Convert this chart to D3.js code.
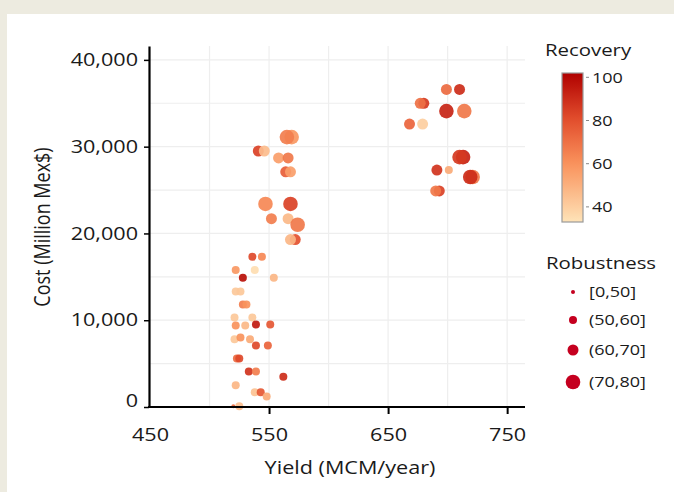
<!DOCTYPE html>
<html><head><meta charset="utf-8">
<script src="https://cdn.jsdelivr.net/npm/d3@7"></script>
<style>
html,body{margin:0;padding:0;background:#EDEBE0;}
svg{display:block;}
text{font-family:"Open Sans",sans-serif;fill:#1a1a1a;}
</style></head><body>
<svg id="c" width="674" height="492"></svg>
<script>
// ---- data ----
const yieldVals = [699,710,680,677,699,714,668,679,713,710,691,701,721,719,693,690,
  569,565,541,546,558,566,564,568,547,568,552,566,574,572,568,
  536,544,522,538,528,554,522,526,528,531,521,536,522,530,539,551,521,526,534,539,549,523,525,533,539,562,522,538,543,548,520,525];
const costVals = [36600,36600,35000,35000,34100,34100,32600,32600,28800,28800,27300,27300,26500,26500,24900,24900,
  31100,31100,29500,29500,28700,28700,27100,27100,23400,23400,21700,21700,21000,19300,19300,
  17300,17300,15800,15800,14900,14900,13300,13300,11800,11800,10300,10300,9400,9400,9500,9500,7800,8000,7800,7100,7100,5600,5600,4100,4100,3500,2500,1700,1700,1200,100,100];
const recoveryVals = [72,90,86,70,92,68,74,40,92,86,88,52,68,90,84,68,
  58,66,84,46,56,68,76,56,63,84,66,47,68,80,48,
  82,63,58,35,98,48,42,42,66,60,42,42,60,47,95,78,42,60,52,82,74,72,82,88,66,90,48,44,78,52,72,45];
const robustnessVals = ["(60,70]","(60,70]","(60,70]","(60,70]","(70,80]","(70,80]","(60,70]","(60,70]","(70,80]","(70,80]","(60,70]","(50,60]","(70,80]","(70,80]","(60,70]","(60,70]",
  "(70,80]","(70,80]","(60,70]","(60,70]","(60,70]","(60,70]","(60,70]","(60,70]","(70,80]","(70,80]","(60,70]","(60,70]","(70,80]","(60,70]","(60,70]",
  "(50,60]","(50,60]","(50,60]","(50,60]","(50,60]","(50,60]","(50,60]","(50,60]","(50,60]","(50,60]","(50,60]","(50,60]","(50,60]","(50,60]","(50,60]","(50,60]","(50,60]","(50,60]","(50,60]","(50,60]","(50,60]","(50,60]","(50,60]","(50,60]","(50,60]","(50,60]","(50,60]","(50,60]","(50,60]","(50,60]","[0,50]","(50,60]"];
const robustCats = ["[0,50]","(50,60]","(60,70]","(70,80]"];
const xTicks = [450,550,650,750];
const yTicks = [0,10000,20000,30000,40000];
const xGrid = [500,550,600,650,700,750];
const yGrid = [5000,10000,15000,20000,25000,30000,35000,40000];
const recoveryTicks = [40,60,80,100];

const points = yieldVals.map((v,i)=>({x:v,y:costVals[i],rec:recoveryVals[i],rob:robustnessVals[i]}));

// ---- setup ----
const SX = 1.2;
const svg = d3.select("#c");
svg.append("rect").attr("width",674).attr("height",492).attr("fill","#EDEBE0");
svg.append("rect").attr("x",7).attr("y",14).attr("width",667).attr("height",478).attr("fill","#fff");

const x = d3.scaleLinear().domain([450,765]).range([150,525]);
const y = d3.scaleLinear().domain([0,41600]).range([407,46]);
const color = d3.scaleLinear().domain([33,60,80,102]).range(["#FEE3B8","#F9925C","#E3502E","#B00000"]).clamp(true);
const size = d3.scaleOrdinal().domain(robustCats).range([2,4,5.5,7.3]);

function stretchText(sel){
  sel.each(function(){
    const t=d3.select(this);
    const tx=+t.attr("x")||0, ty=+t.attr("y")||0;
    t.attr("transform",`translate(${tx},${ty}) scale(${SX},1)`).attr("x",0).attr("y",0);
  });
}

// grid
const grid = svg.append("g");
grid.selectAll(".gx").data(xGrid).join("line")
  .attr("x1",d=>x(d)).attr("x2",d=>x(d)).attr("y1",y.range()[1]).attr("y2",y(0))
  .attr("stroke","#EEEEEE").attr("stroke-width",1.2);
grid.selectAll(".gy").data(yGrid).join("line")
  .attr("x1",x(450)).attr("x2",x.range()[1]).attr("y1",d=>y(d)).attr("y2",d=>y(d))
  .attr("stroke","#EEEEEE").attr("stroke-width",1.2);

// points
svg.append("g").selectAll("circle").data(points).join("circle")
  .attr("cx",d=>x(d.x)).attr("cy",d=>y(d.y)).attr("r",d=>size(d.rob))
  .attr("fill",d=>color(d.rec)).attr("fill-opacity",0.92);

// axes
const gx = svg.append("g").attr("transform",`translate(0,${y(0)})`)
  .call(d3.axisBottom(x).tickValues(xTicks).tickSize(7).tickPadding(14).tickSizeOuter(0));
gx.select(".domain").attr("stroke","#000").attr("stroke-width",2.2).attr("d",`M${x(450)-2},0H${x.range()[1]}`);
gx.selectAll(".tick line").attr("stroke","#000").attr("stroke-width",2);
gx.selectAll(".tick").filter(d=>d===450).select("line").remove();
gx.selectAll("text").attr("font-size",18).attr("font-family","'Open Sans',sans-serif").attr("fill","#1a1a1a");
stretchText(gx.selectAll("text"));

const gy = svg.append("g").attr("transform",`translate(${x(450)-1},0)`)
  .call(d3.axisLeft(y).tickValues(yTicks).tickSize(5).tickPadding(6).tickSizeOuter(0).tickFormat(d3.format(",")));
gy.select(".domain").attr("stroke","#000").attr("stroke-width",2.2);
gy.selectAll(".tick line").attr("stroke","#000").attr("stroke-width",1.5);
gy.selectAll("text").attr("font-size",18).attr("font-family","'Open Sans',sans-serif").attr("fill","#1a1a1a");
gy.selectAll(".tick").filter(d=>d===0).select("text").attr("y",-6);
stretchText(gy.selectAll("text"));

// axis titles
svg.append("text").attr("transform",`translate(350,474) scale(${SX},1)`)
  .attr("text-anchor","middle").attr("font-size",18).text("Yield (MCM/year)");
svg.append("text").attr("transform",`translate(50,227) scale(${SX},1) rotate(-90)`)
  .attr("text-anchor","middle").attr("font-size",18).text("Cost (Million Mex$)");

// recovery legend
svg.append("text").attr("transform",`translate(588,56) scale(${SX},1)`)
  .attr("text-anchor","middle").attr("font-size",17).text("Recovery");
const yLeg = d3.scaleLinear().domain([33,102]).range([222,73]);
const defs = svg.append("defs");
const grad = defs.append("linearGradient").attr("id","rg").attr("x1",0).attr("y1",1).attr("x2",0).attr("y2",0);
d3.range(0,1.0001,0.05).forEach(t=>{
  const v = yLeg.domain()[0] + t*(yLeg.domain()[1]-yLeg.domain()[0]);
  grad.append("stop").attr("offset",t).attr("stop-color",color(v));
});
svg.append("rect").attr("x",562).attr("y",yLeg(102)).attr("width",21).attr("height",yLeg(33)-yLeg(102))
  .attr("fill","url(#rg)").attr("stroke","#9a9a9a").attr("stroke-width",1.2);
const rt = svg.append("g");
rt.selectAll("line").data(recoveryTicks).join("line")
  .attr("x1",586).attr("x2",589).attr("y1",d=>yLeg(d)).attr("y2",d=>yLeg(d)).attr("stroke","#888");
rt.selectAll("text").data(recoveryTicks).join("text")
  .attr("transform",d=>`translate(592,${yLeg(d)}) scale(${SX},1)`).attr("dy","0.35em")
  .attr("font-size",15).text(d=>d);

// robustness legend
svg.append("text").attr("transform",`translate(601,269) scale(${SX},1)`)
  .attr("text-anchor","middle").attr("font-size",17).text("Robustness");
const legY = d3.scalePoint().domain(robustCats).range([292,382]);
const rl = svg.append("g");
rl.selectAll("circle").data(robustCats).join("circle")
  .attr("cx",573).attr("cy",(d,i)=>[292,320,350,382][i]).attr("r",d=>size(d)).attr("fill","#C5001F");
rl.selectAll("text").data(robustCats).join("text")
  .attr("transform",(d,i)=>`translate(589,${[292,320,350,382][i]}) scale(${SX},1)`).attr("dy","0.35em")
  .attr("font-size",15).text(d=>d);
</script>
</body></html>
